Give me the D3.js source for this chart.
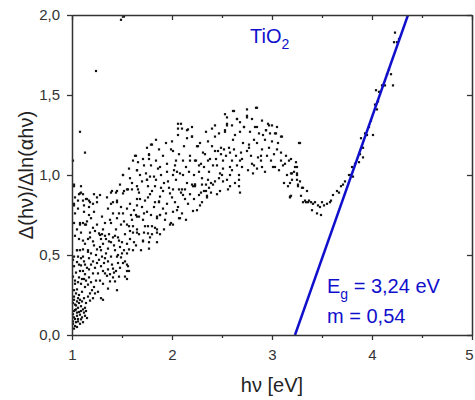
<!DOCTYPE html>
<html><head><meta charset="utf-8">
<script src="https://cdn.jsdelivr.net/npm/d3@7"></script>
<style>body{margin:0;background:#fff}</style>
</head><body>
<svg id="c" width="475" height="400"></svg>
<script>
// ---- data ----
const xTicks = [1, 2, 3, 4, 5];
const xMinorTicks = [1.5, 2.5, 3.5, 4.5];
const yTicks = [0, 0.5, 1.0, 1.5, 2.0];
const xTitle = "hν [eV]";
const yTitle = "Δ(hν)/Δln(αhν)";
const sampleName = ["TiO", "2"];
const egText = ["E", "g", " = 3,24 eV"];
const mText = "m = 0,54";
// linear fit line (hv, y)
const fitX = [3.23, 4.36];
const fitY = [0, 2.0];
// scatter points [hv, y]
const points = [
[1.49,1.97],[1.52,1.99],[1.24,1.65],[1.08,1.27],[1.13,1.14],[1.01,1.09],[1.02,0.94],
[2.06,1.32],[2.09,1.32],[2.06,1.29],[2.15,1.28],[2.06,1.25],[2.15,1.23],[2.20,1.24],[2.25,1.18],[1.79,1.19],[1.75,1.17],[1.87,1.16],[1.99,1.16],[2.01,1.15],[2.07,1.13],[1.64,1.12],[1.77,1.13],[2.18,1.12],[1.71,1.10],[1.77,1.10],[1.61,1.09],[2.04,1.09],[2.11,1.09],[2.24,1.09],[1.79,1.06],[1.95,1.07],[2.03,1.06],[1.86,1.04],[1.88,1.05],[1.65,1.03],[1.95,1.02],[2.02,1.03],[2.05,1.02],[2.08,1.01],[1.51,1.0],[1.74,1.01],[1.82,0.99],[1.89,1.0],[2.01,1.0],[2.11,1.0],[1.58,0.98],[1.75,0.97],[1.96,0.96],[2.04,0.97],[2.20,0.94],[2.23,0.94],[1.02,0.93],[1.09,0.93],[1.76,0.93],[1.83,0.93],[1.56,0.91],[1.60,0.91],[1.66,0.91],[1.89,0.92],[1.91,0.90],[2.01,0.91],[2.07,0.91],[2.13,0.91],[1.39,0.89],[1.44,0.89],[1.09,0.89],[1.07,0.88],[1.11,0.88],[1.52,0.90],[1.67,0.89],[1.78,0.88],[2.09,0.89],[1.03,0.86],[1.14,0.85],[1.25,0.86],[1.06,0.84],[1.17,0.84],[1.39,0.82],[1.45,0.83],[1.65,0.85],[1.76,0.86],[1.87,0.83],[2.0,0.86],[2.13,0.85],[2.22,0.85],
[1.08,0.885],[1.11,0.84],[1.15,0.85],[1.02,0.81],[1.17,0.80],[1.25,0.83],[1.28,0.875],[1.40,0.90],[1.45,0.90],[1.51,0.885],[1.55,0.91],[1.65,0.93],[1.75,0.97],[1.78,0.99],[1.63,1.12],[1.65,1.03],[1.72,1.06],[1.77,1.125],[1.80,1.19],[1.51,1.0],[1.55,0.79],
[1.08,0.70],[1.14,0.69],[1.02,0.70],[1.05,0.66],[1.11,0.59],[1.18,0.61],[1.28,0.625],[1.34,0.60],[1.41,0.61],[1.50,0.58],[1.05,0.53],[1.02,0.49],[1.09,0.48],[1.16,0.52],[1.28,0.55],[1.34,0.51],[1.45,0.49],[1.55,0.51],[1.64,0.56],[1.71,0.59],[1.78,0.61],[1.80,0.68],[1.85,0.66],[1.60,0.72],[1.65,0.74],[1.75,0.77],
[1.99,0.70],[2.08,0.73],[2.14,0.72],[2.21,0.775],[2.25,0.78],[2.28,0.81],[2.35,0.86],[1.85,0.73],[1.91,0.79],[1.88,0.75],[1.82,0.80],[1.88,0.865],[1.98,0.885],[2.03,0.83],[2.11,0.875],[2.10,0.91],[2.23,0.93],[3.26,0.94],[3.33,0.84],[3.36,0.83],[3.30,0.92],[3.25,0.97],[3.18,0.865],[3.28,1.20],
[1.02,0.82],[1.12,0.81],[1.18,0.83],[1.21,0.82],[1.41,0.83],[1.45,0.84],[1.65,0.81],[1.83,0.83],[1.87,0.835],[2.01,0.77],[2.05,0.78],[1.95,0.82],[1.03,0.76],[1.17,0.75],[1.19,0.73],[1.47,0.76],[1.51,0.76],[1.59,0.75],[1.64,0.75],[1.67,0.74],[1.79,0.75],[1.85,0.74],[1.88,0.75],[1.71,0.72],[1.98,0.69],[2.01,0.69],[2.07,0.73],[1.08,0.69],[1.11,0.70],[1.13,0.69],[1.15,0.71],[1.25,0.69],[1.33,0.70],[1.38,0.72],[1.39,0.70],[1.49,0.69],[1.55,0.69],[1.57,0.68],[1.61,0.68],[1.65,0.66],[1.73,0.68],[1.76,0.68],[1.83,0.67],[1.61,0.64],[1.65,0.64],[1.67,0.63],[1.76,0.635],[1.85,0.64],[1.88,0.63],[1.71,0.585],[1.77,0.58],[1.85,0.58],[1.77,0.54],[1.69,0.53],[1.18,0.64],[1.23,0.65],[1.27,0.635],[1.30,0.63],[1.33,0.62],[1.37,0.63],[1.43,0.62],[1.46,0.61],[1.47,0.59],[1.16,0.60],[1.21,0.585],[1.29,0.60],[1.37,0.585],[1.39,0.58],[1.55,0.57],[1.52,0.53],[1.57,0.535],[1.61,0.53],[1.05,0.53],[1.08,0.53],[1.11,0.535],[1.16,0.53],[1.19,0.51],[1.25,0.535],[1.29,0.53],[1.43,0.53],[1.06,0.49],[1.11,0.49],[1.17,0.48],[1.21,0.46],[1.27,0.47],[1.39,0.49],[1.46,0.50],[1.49,0.485],[1.53,0.46],[1.55,0.44],[1.56,0.43],[1.51,0.45],[1.57,0.40],[1.55,0.40],[1.53,0.365],[1.55,0.35],[1.01,0.47],[1.05,0.456],[1.09,0.435],[1.13,0.44],[1.15,0.42],[1.11,0.40],[1.17,0.41],[1.21,0.385],[1.26,0.385],[1.31,0.40],[1.33,0.385],[1.36,0.41],[1.41,0.415],[1.44,0.40],[1.35,0.37],[1.41,0.36],[1.47,0.365],[1.28,0.34],[1.31,0.32],[1.38,0.335],[1.43,0.335],[1.45,0.28],[1.36,0.29],[1.01,0.365],[1.07,0.36],[1.12,0.35],[1.03,0.32],[1.09,0.32],[1.16,0.315],[1.05,0.285],[1.13,0.30],[1.20,0.28],[1.26,0.27],[1.29,0.23],[1.31,0.22],[1.21,0.23],[1.18,0.215],[1.02,0.24],[1.06,0.23],[1.01,0.20],[1.04,0.185],[1.06,0.17],[1.09,0.18],[1.13,0.17],[1.11,0.16],[1.03,0.156],[1.07,0.144],[1.01,0.13],[1.05,0.12],[1.08,0.127],[1.13,0.12],[1.15,0.106],[1.03,0.10],[1.09,0.098],[1.01,0.085],[1.06,0.085],[1.11,0.08],[1.01,0.07],[1.03,0.056],
[2.62,1.40],[2.53,1.38],[2.55,1.36],[2.75,1.41],[2.84,1.42],[2.65,1.35],[2.75,1.37],[2.55,1.32],[2.53,1.28],[2.72,1.30],[2.96,1.32],[2.97,1.31],[2.83,1.30],[2.94,1.28],[3.03,1.26],[2.43,1.24],[2.63,1.25],[2.87,1.26],[2.20,1.24],[2.61,1.22],[2.93,1.22],[3.09,1.24],[2.26,1.18],[2.71,1.20],[2.77,1.19],[2.85,1.20],[3.0,1.21],[3.06,1.20],[3.27,1.20],[2.49,1.17],[2.52,1.16],[2.57,1.17],[2.46,1.15],[2.62,1.16],[2.77,1.17],[2.97,1.17],[3.05,1.16],[2.31,1.14],[2.43,1.15],[2.58,1.14],[2.69,1.14],[2.75,1.15],[2.33,1.13],[2.49,1.13],[2.54,1.12],[3.09,1.14],[2.86,1.11],[2.89,1.12],[2.23,1.09],[2.29,1.07],[2.18,1.09],[2.44,1.10],[2.38,1.10],[2.51,1.09],[2.60,1.09],[2.68,1.09],[2.80,1.07],[2.89,1.09],[2.99,1.09],[3.09,1.09],[3.13,1.07],[3.17,1.09],[2.27,1.06],[2.41,1.06],[2.65,1.06],[2.82,1.06],[2.90,1.05],[3.01,1.05],[3.03,1.05],[3.11,1.06],[2.51,1.04],[2.58,1.05],[2.70,1.05],[2.85,1.04],[3.25,1.05],[2.37,1.02],[2.48,1.01],[2.50,1.00],[2.58,1.0],[2.67,1.0],[2.81,1.01],[2.27,1.02],[3.19,1.01],[3.25,1.01],[2.36,0.97],[2.51,0.96],[2.67,0.97],[3.20,0.97],[3.18,0.95],[2.23,0.94],[2.21,0.93],[2.34,0.94],[2.39,0.95],[2.41,0.94],[2.58,0.93],[2.67,0.93],[2.37,0.92],[2.32,0.90],[2.29,0.89],[2.34,0.90],[2.39,0.89],[2.48,0.90],[2.68,0.89],[2.27,0.875],[2.35,0.87],[3.19,0.87],[2.30,0.83],
[2.85,1.42],[2.61,1.40],[2.65,1.35],[2.75,1.36],[2.85,1.30],[2.10,1.29],[2.16,1.285],[2.20,1.30],[2.55,1.31],[2.72,1.30],[2.94,1.28],[3.04,1.26],[3.10,1.24],[2.53,1.27],[2.91,1.25],
[4.23,1.89],[4.22,1.83],[4.25,1.83],[4.27,1.85],[4.17,1.66],[4.15,1.63],[4.19,1.63],[4.10,1.56],[4.13,1.56],[4.21,1.56],[4.04,1.53],[4.07,1.52],[4.06,1.46],[4.03,1.44],[4.05,1.41],[3.99,1.34],[3.97,1.30],[3.93,1.26],[3.95,1.25],[4.01,1.25],[3.89,1.23],[3.91,1.17],[3.88,1.13],[3.91,1.11],[3.87,1.08],[3.83,1.07],[3.80,1.05],[3.79,1.0],[3.77,1.0],[3.81,0.99],[3.73,0.96],[3.71,0.94],[3.69,0.93],[3.65,0.9],[3.67,0.89],[3.61,0.875],[3.59,0.84],[3.58,0.83],[3.55,0.82],[3.52,0.81],[3.50,0.83],[3.48,0.80],[3.46,0.81],[3.43,0.83],[3.41,0.82],[3.39,0.83],[3.37,0.84],[3.34,0.83],[3.31,0.83],[3.40,0.78],[3.45,0.76],[3.49,0.75],[3.29,0.87],[3.35,0.90],[3.31,0.92],[3.26,0.93],[3.28,0.96],[3.25,1.0],[3.22,1.02],[3.20,1.01],[3.23,1.05],[3.24,1.08],[3.19,1.10],[3.18,0.86],
[1.02,0.28],[1.04,0.26],[1.07,0.25],[1.10,0.27],[1.02,0.22],[1.05,0.21],[1.08,0.22],[1.12,0.23],[1.03,0.19],[1.07,0.2],[1.10,0.21],[1.14,0.2],[1.04,0.16],[1.09,0.15],[1.12,0.14],[1.02,0.15],[1.05,0.14],[1.14,0.15],[1.02,0.11],[1.06,0.1],[1.1,0.11],[1.04,0.08],[1.08,0.07],[1.02,0.04],[1.05,0.05],[1.03,0.34],[1.06,0.33],[1.1,0.35],[1.14,0.34],[1.04,0.39],[1.08,0.4],[1.13,0.38],[1.02,0.43],[1.07,0.44],[1.12,0.46],[1.17,0.36],[1.19,0.33],[1.22,0.3],[1.24,0.34],[1.18,0.26],[1.23,0.26],[1.16,0.24],[1.19,0.44],[1.23,0.42],[1.25,0.45],[1.29,0.43],[1.32,0.45],[1.24,0.5],[1.3,0.49],[1.33,0.48],[1.36,0.46],[1.4,0.44],[1.38,0.38],[1.42,0.39],[1.48,0.42],[1.46,0.45],[1.5,0.51],[1.48,0.55],[1.42,0.56],[1.36,0.54],[1.31,0.57],[1.22,0.56],[1.13,0.57],[1.07,0.6],[1.03,0.62],[1.09,0.64],[1.21,0.67],[1.31,0.66],[1.44,0.66],[1.53,0.63],[1.58,0.6],[1.62,0.58],[1.58,0.65],[1.52,0.71],[1.45,0.73],[1.41,0.76],[1.3,0.74],[1.22,0.77],[1.12,0.77],[1.06,0.79],[1.36,0.79],[1.49,0.8],[1.58,0.82],[1.7,0.8],[1.73,0.84],[1.8,0.9],[1.84,0.97],[1.92,0.95],[1.97,0.92],[2.15,0.95],[2.17,1.02],[2.14,1.05],[2.22,1.0],[2.3,0.98],[2.32,1.05],[2.36,1.09],[2.4,1.18],[2.36,1.21],[2.45,1.06],[2.47,0.98],[2.55,0.97],[2.6,1.03],[2.64,1.12],[2.7,1.1],[2.79,1.12],[2.82,1.22],[2.68,1.27],[2.78,1.27],[2.9,1.16],[2.95,1.12],[3.02,1.13],[3.07,1.03],[3.14,1.12],[3.15,1.0],[3.12,0.95],[3.16,0.93],[2.93,1.02],[2.76,1.03],[2.63,0.95],[2.56,0.91],[2.45,0.88],[2.43,0.96],[2.3,0.94],[2.18,0.88],[2.16,0.82],[2.06,0.8],[1.94,0.76],[1.93,0.72],[2.1,0.76],[1.72,0.64],[1.8,0.63],[1.92,0.66],[1.72,0.76],[1.62,0.78],[1.68,0.85],[1.7,0.96],[1.6,0.95],[1.68,1.0],[1.57,1.04],[1.66,1.08],[1.84,1.09],[1.91,1.12],[1.94,1.2],[1.84,1.22],[2.0,1.21],[2.12,1.18],[2.28,1.2],[2.34,1.27],[2.43,1.31],[2.47,1.26],[2.4,1.29],[2.6,1.31],[2.68,1.33],[2.8,1.35],[2.9,1.34],[3.0,1.31],[2.98,1.26],[3.05,1.3],[1.48,0.94],[1.35,0.86],[1.22,0.88]
];

// ---- chart ----
const FONT = "'Liberation Sans', Arial, sans-serif";
const AX = "#333";
const BLUE = "#1010cc";
const svg = d3.select("#c");
const L = 72, R = 472, T = 15, B = 335;
const x = d3.scaleLinear().domain([1, 5]).range([L, R]);
const y = d3.scaleLinear().domain([0, 2]).range([B, T]);
const fmt = d => d3.format(".1f")(d).replace(".", ",");

const plot = svg.append("g");
svg.append("clipPath").attr("id", "cp").append("rect")
  .attr("x", L).attr("y", T).attr("width", R - L).attr("height", B - T);

// points
plot.append("g").selectAll("rect").data(points).join("rect")
  .attr("x", d => x(d[0]) - 1.1).attr("y", d => y(d[1]) - 1.1)
  .attr("width", 2.2).attr("height", 2.2).attr("fill", "#111");

// fit line
plot.append("line")
  .attr("x1", x(fitX[0])).attr("y1", y(fitY[0]))
  .attr("x2", x(fitX[1])).attr("y2", y(fitY[1]))
  .attr("stroke", BLUE).attr("stroke-width", 2.5)
  .attr("clip-path", "url(#cp)");

function style(g) {
  g.selectAll("path").attr("stroke", AX).attr("stroke-width", 1.5);
  g.selectAll("line").attr("stroke", AX).attr("stroke-width", 1.3);
  g.selectAll("text").attr("font-family", FONT).attr("font-size", 15).attr("fill", "#333");
}
// bottom
svg.append("g").attr("transform", `translate(0,${B})`)
  .call(d3.axisBottom(x).tickValues(xTicks).tickFormat(d3.format("d")).tickSize(5).tickSizeOuter(0).tickPadding(9))
  .call(style)
  .call(g => g.selectAll(".tick text").filter(d => d === 5).attr("dx", -3));
svg.append("g").attr("transform", `translate(0,${B})`)
  .call(d3.axisBottom(x).tickValues(xMinorTicks).tickFormat("").tickSize(3).tickSizeOuter(0))
  .call(style).call(g => g.select("path").remove());
// top (inward ticks)
svg.append("g").attr("transform", `translate(0,${T})`)
  .call(d3.axisTop(x).tickValues(xTicks).tickFormat("").tickSize(-5).tickSizeOuter(0))
  .call(style);
svg.append("g").attr("transform", `translate(0,${T})`)
  .call(d3.axisTop(x).tickValues(xMinorTicks).tickFormat("").tickSize(-3).tickSizeOuter(0))
  .call(style).call(g => g.select("path").remove());
// left
svg.append("g").attr("transform", `translate(${L},0)`)
  .call(d3.axisLeft(y).tickValues(yTicks).tickFormat(fmt).tickSize(5).tickSizeOuter(0).tickPadding(7))
  .call(style);
// right (inward)
svg.append("g").attr("transform", `translate(${R},0)`)
  .call(d3.axisRight(y).tickValues(yTicks).tickFormat("").tickSize(-5).tickSizeOuter(0))
  .call(style);

// titles
svg.append("text").attr("x", (L + R) / 2).attr("y", 392).attr("text-anchor", "middle")
  .attr("font-family", FONT).attr("font-size", 20).attr("fill", "#222").text(xTitle);
svg.append("text").attr("transform", `translate(33,${(T + B) / 2}) rotate(-90)`)
  .attr("text-anchor", "middle").attr("font-family", FONT).attr("font-size", 20)
  .attr("fill", "#222").text(yTitle);

// annotations
const t1 = svg.append("text").attr("x", 250).attr("y", 43)
  .attr("font-family", FONT).attr("font-size", 20).attr("fill", BLUE);
t1.append("tspan").text(sampleName[0]);
t1.append("tspan").attr("dy", 6).attr("font-size", 14).text(sampleName[1]);

const t2 = svg.append("text").attr("x", 327).attr("y", 293)
  .attr("font-family", FONT).attr("font-size", 20).attr("fill", BLUE);
t2.append("tspan").text(egText[0]);
t2.append("tspan").attr("dy", 6).attr("font-size", 14).text(egText[1]);
t2.append("tspan").attr("dy", -6).text(egText[2]);

svg.append("text").attr("x", 327).attr("y", 323)
  .attr("font-family", FONT).attr("font-size", 20).attr("fill", BLUE).text(mText);
</script>
</body></html>
